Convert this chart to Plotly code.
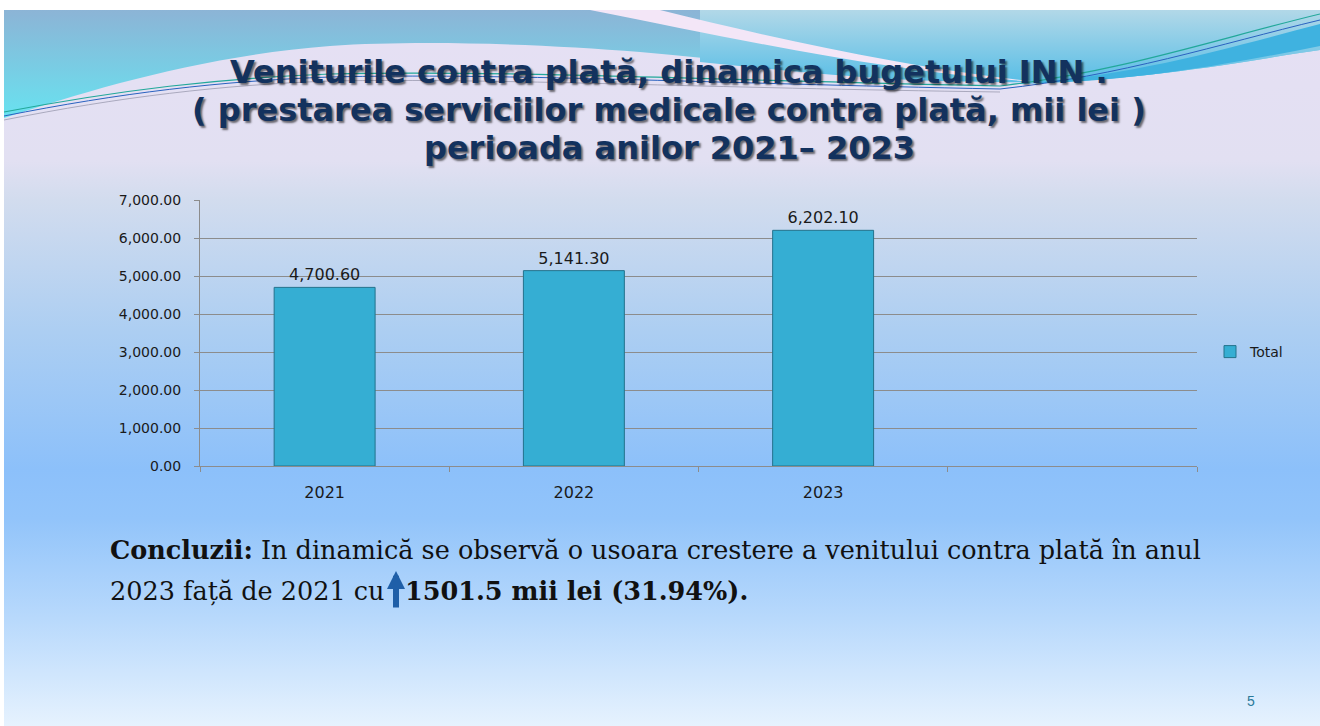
import base64

import plotly.graph_objects as go

# Data
years = ["2021", "2022", "2023"]
axis_slots = ["2021", "2022", "2023", " "]
revenue = [4700.60, 5141.30, 6202.10]
series_name = "Total"

title_lines = [
    "Veniturile contra plată, dinamica bugetului INN .",
    "( prestarea serviciilor medicale contra plată, mii lei )",
    "perioada anilor 2021– 2023",
]
conclusion_line1 = "<b>Concluzii:</b> In dinamică se observă o usoara crestere a venitului contra plată în anul"
conclusion_line2a = "2023 față de 2021 cu"
conclusion_line2b = "<b>1501.5 mii lei (31.94%).</b>"
page_number = "5"

W, H = 1320, 726
# plot area in pixels
L, R, T, B = 200, 1197, 200, 466


def px(x, y):
    """Pixel position on the page -> paper coordinates."""
    return (x - L) / (R - L), (B - y) / (B - T)


# Slide background (gradient + decorative waves) as an SVG image
svg = f"""<svg xmlns='http://www.w3.org/2000/svg' width='{W}' height='{H}' viewBox='0 0 {W} {H}'>
<defs>
<linearGradient id='bg' x1='0' y1='0' x2='0' y2='1'>
<stop offset='0' stop-color='#e6e0f4'/><stop offset='0.21' stop-color='#e2e0f2'/>
<stop offset='0.265' stop-color='#d2dcee'/><stop offset='0.45' stop-color='#accef2'/>
<stop offset='0.642' stop-color='#8cc0fa'/><stop offset='0.71' stop-color='#92c4fa'/>
<stop offset='0.85' stop-color='#b8d9fc'/><stop offset='1' stop-color='#e6f2fe'/>
</linearGradient>
<linearGradient id='wl' x1='0' y1='0' x2='0' y2='1'>
<stop offset='0' stop-color='#8cb4d6'/><stop offset='1' stop-color='#68e2f0'/>
</linearGradient>
<linearGradient id='wr' x1='0' y1='0' x2='0' y2='1'>
<stop offset='0' stop-color='#b2d8e8'/><stop offset='1' stop-color='#58bee6'/>
</linearGradient>
</defs>
<rect x='0' y='0' width='{W}' height='{H}' fill='white'/>
<rect x='4' y='10' width='{W - 4}' height='{H - 10}' fill='url(#bg)'/>
<path d='M4,10 H1320 V50 C1250,60 1150,80 1040,82 C900,84 760,62 640,52 C540,44 420,40 330,46 C200,56 90,90 4,118 Z' fill='url(#wl)'/>
<path d='M700,10 H1320 V50 C1250,60 1150,80 1040,82 C900,84 800,72 700,62 Z' fill='url(#wr)'/>
<path d='M590,10 H660 C780,40 920,70 1040,82 C900,74 760,44 590,10 Z' fill='#f3e6f7'/>
<path d='M1000,84 C1120,80 1220,50 1320,24 V46 C1220,66 1120,84 1000,84 Z' fill='#3fb2e0'/>
<path d='M4,112 C120,90 220,78 330,74 C500,70 700,80 1000,86 C1120,72 1220,38 1320,14' fill='none' stroke='#22a89a' stroke-width='1.2'/>
<path d='M4,116 C120,93 220,81 330,77 C500,73 700,83 1000,89 C1120,76 1220,44 1320,20' fill='none' stroke='#2a62c0' stroke-width='1'/>
<path d='M4,120 C120,97 220,85 330,81 C500,78 700,88 1000,92' fill='none' stroke='#9a9ab0' stroke-width='0.8'/>
</svg>"""
bg_uri = "data:image/svg+xml;base64," + base64.b64encode(svg.encode("utf-8")).decode("ascii")

fig = go.Figure()

# Bars: one per year, value labels above
fig.add_trace(
    go.Bar(
        x=years,
        y=revenue,
        name=series_name,
        width=0.405,
        marker=dict(color="#35aed3", line=dict(color="#23728c", width=1)),
        text=[f"{v:,.2f}" for v in revenue],
        textposition="outside",
        textfont=dict(family="DejaVu Sans", size=16, color="#1a1a1a"),
        cliponaxis=False,
        showlegend=True,
    )
)

x0, y0 = px(0, 0)
fig.add_layout_image(
    source=bg_uri,
    xref="paper",
    yref="paper",
    x=x0,
    y=y0,
    sizex=W / (R - L),
    sizey=H / (B - T),
    xanchor="left",
    yanchor="top",
    sizing="stretch",
    layer="below",
)

fig.update_layout(
    width=W,
    height=H,
    margin=dict(l=L, r=W - R, t=T, b=H - B, pad=0),
    paper_bgcolor="white",
    plot_bgcolor="rgba(0,0,0,0)",
    font=dict(family="DejaVu Sans", color="#1a1a1a"),
    xaxis=dict(
        type="category",
        categoryorder="array",
        categoryarray=axis_slots,
        range=[-0.5, 3.5],
        tickson="boundaries",
        ticks="outside",
        ticklen=5,
        tickcolor="#8c8c8c",
        showline=True,
        linecolor="#8c8c8c",
        showgrid=False,
        ticklabelstandoff=12,
        tickfont=dict(size=16, color="#1a1a1a"),
        fixedrange=True,
    ),
    yaxis=dict(
        range=[0, 7000],
        dtick=1000,
        tickformat=",.2f",
        ticks="outside",
        ticklen=5,
        tickcolor="#8c8c8c",
        showline=True,
        linecolor="#8c8c8c",
        gridcolor="#8c8c8c",
        gridwidth=1,
        zeroline=False,
        ticklabelstandoff=10,
        tickfont=dict(size=14, color="#1a1a1a"),
        fixedrange=True,
    ),
    legend=dict(
        x=px(1210, 0)[0],
        y=px(0, 352)[1],
        xanchor="left",
        yanchor="middle",
        bgcolor="rgba(0,0,0,0)",
        font=dict(size=14, color="#1a1a1a"),
        itemwidth=30,
    ),
    bargap=0.6,
)

# Title block, one annotation per line
title_font = dict(
    family="DejaVu Sans",
    size=32,
    color="#13325e",
    shadow="2px 2px 2px rgba(0,0,0,0.55)",
)
for line, y_px in zip(title_lines, [72, 110, 148]):
    tx, ty = px(669, y_px)
    fig.add_annotation(
        text=f"<b>{line}</b>",
        xref="paper",
        yref="paper",
        x=tx,
        y=ty,
        xanchor="center",
        yanchor="middle",
        showarrow=False,
        font=title_font,
    )

# Conclusion text
serif = dict(family="DejaVu Serif", size=25.5, color="#111111")
cx, cy = px(108, 550)
fig.add_annotation(text=conclusion_line1, xref="paper", yref="paper", x=cx, y=cy,
                   xanchor="left", yanchor="middle", showarrow=False, font=serif)
cx, cy = px(108, 591)
fig.add_annotation(text=conclusion_line2a, xref="paper", yref="paper", x=cx, y=cy,
                   xanchor="left", yanchor="middle", showarrow=False, font=serif)
cx, cy = px(403, 591)
fig.add_annotation(text=conclusion_line2b, xref="paper", yref="paper", x=cx, y=cy,
                   xanchor="left", yanchor="middle", showarrow=False, font=serif)

# Up arrow in front of the amount
ax_, ay_ = px(396, 571)
fig.add_annotation(
    text="",
    xref="paper",
    yref="paper",
    x=ax_,
    y=ay_,
    ax=0,
    ay=38,
    showarrow=True,
    arrowhead=2,
    arrowsize=0.6,
    arrowwidth=6,
    arrowcolor="#1f5fa8",
)

# Page number
nx, ny = px(1257, 711)
fig.add_annotation(text=page_number, xref="paper", yref="paper", x=nx, y=ny,
                   showarrow=False, font=dict(family="Liberation Sans", size=14, color="#2a7a9a"))

fig.write_html(
    "out.html",
    config={"displayModeBar": False},
    post_script="document.body.style.margin='0';",
)
